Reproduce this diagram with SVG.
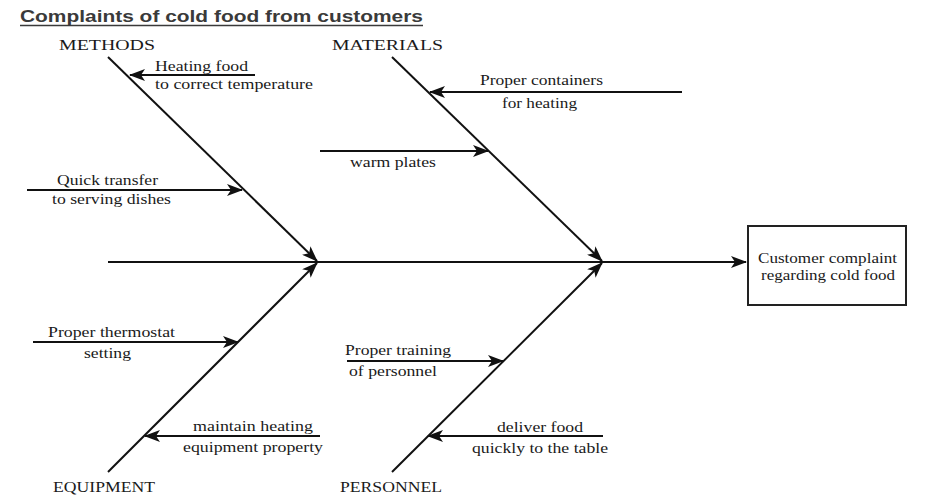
<svg xmlns="http://www.w3.org/2000/svg" width="937" height="502" viewBox="0 0 937 502">
<defs>
<style>
.title{font-family:"Liberation Sans",Arial,sans-serif;font-weight:bold;font-size:16.5px;fill:#3a3a3a}
.cat{font-family:"Liberation Serif","Times New Roman",serif;font-size:14.5px;fill:#1a1a1a}
.lbl{font-family:"Liberation Serif","Times New Roman",serif;font-size:15px;fill:#1a1a1a}
.ln{stroke:#111;stroke-width:2;fill:none}
.box{fill:#fff;stroke:#222;stroke-width:2}
</style>
<marker id="ah" viewBox="0 0 16 12" markerWidth="16" markerHeight="12" refX="15" refY="6" orient="auto" markerUnits="userSpaceOnUse">
<path d="M0,0 L16,6 L0,12 L4,6 z" fill="#111"/>
</marker>
</defs>
<rect width="937" height="502" fill="#fff"/>
<g id="title">
<text class="title" x="20" y="22" textLength="403" lengthAdjust="spacingAndGlyphs">Complaints of cold food from customers</text>
<line x1="20" y1="25.5" x2="423" y2="25.5" stroke="#3a3a3a" stroke-width="1.3"/>
</g>
<g id="connectors">
<line class="ln" x1="108" y1="262" x2="746" y2="262" marker-end="url(#ah)"/>
<line class="ln" x1="108" y1="57" x2="317" y2="261" marker-end="url(#ah)"/>
<line class="ln" x1="392" y1="57" x2="602" y2="261" marker-end="url(#ah)"/>
<line class="ln" x1="108" y1="472" x2="317" y2="263" marker-end="url(#ah)"/>
<line class="ln" x1="392" y1="472" x2="602" y2="263" marker-end="url(#ah)"/>
<line class="ln" x1="255" y1="75" x2="130" y2="75" marker-end="url(#ah)"/>
<line class="ln" x1="682" y1="92" x2="430" y2="92" marker-end="url(#ah)"/>
<line class="ln" x1="320" y1="151" x2="488" y2="151" marker-end="url(#ah)"/>
<line class="ln" x1="27" y1="190" x2="242" y2="190" marker-end="url(#ah)"/>
<line class="ln" x1="33" y1="342" x2="238" y2="342" marker-end="url(#ah)"/>
<line class="ln" x1="320" y1="436" x2="145" y2="436" marker-end="url(#ah)"/>
<line class="ln" x1="347" y1="361" x2="503" y2="361" marker-end="url(#ah)"/>
<line class="ln" x1="603" y1="436" x2="428" y2="436" marker-end="url(#ah)"/>
</g>
<g id="effect">
<rect class="box" x="748" y="226" width="158" height="79"/>
<text class="lbl" x="758" y="263" textLength="139" lengthAdjust="spacingAndGlyphs">Customer complaint</text>
<text class="lbl" x="761" y="280" textLength="134" lengthAdjust="spacingAndGlyphs">regarding cold food</text>
</g>
<g id="methods">
<text class="cat" x="59" y="50" textLength="96" lengthAdjust="spacingAndGlyphs">METHODS</text>
</g>
<g id="materials">
<text class="cat" x="332" y="50" textLength="111" lengthAdjust="spacingAndGlyphs">MATERIALS</text>
</g>
<g id="equipment">
<text class="cat" x="53" y="492" textLength="102" lengthAdjust="spacingAndGlyphs">EQUIPMENT</text>
</g>
<g id="personnel">
<text class="cat" x="340" y="492" textLength="102" lengthAdjust="spacingAndGlyphs">PERSONNEL</text>
</g>
<g id="cause-heating">
<text class="lbl" x="155" y="71" textLength="93" lengthAdjust="spacingAndGlyphs">Heating food</text>
<text class="lbl" x="155" y="89" textLength="158" lengthAdjust="spacingAndGlyphs">to correct temperature</text>
</g>
<g id="cause-quick">
<text class="lbl" x="57" y="185" textLength="101" lengthAdjust="spacingAndGlyphs">Quick transfer</text>
<text class="lbl" x="52" y="204" textLength="119" lengthAdjust="spacingAndGlyphs">to serving dishes</text>
</g>
<g id="cause-containers">
<text class="lbl" x="480" y="85" textLength="123" lengthAdjust="spacingAndGlyphs">Proper containers</text>
<text class="lbl" x="502" y="108" textLength="75" lengthAdjust="spacingAndGlyphs">for heating</text>
</g>
<g id="cause-plates">
<text class="lbl" x="350" y="167" textLength="86" lengthAdjust="spacingAndGlyphs">warm plates</text>
</g>
<g id="cause-thermostat">
<text class="lbl" x="48" y="337" textLength="127" lengthAdjust="spacingAndGlyphs">Proper thermostat</text>
<text class="lbl" x="84" y="358" textLength="47" lengthAdjust="spacingAndGlyphs">setting</text>
</g>
<g id="cause-maintain">
<text class="lbl" x="193" y="431" textLength="120" lengthAdjust="spacingAndGlyphs">maintain heating</text>
<text class="lbl" x="183" y="452" textLength="140" lengthAdjust="spacingAndGlyphs">equipment property</text>
</g>
<g id="cause-training">
<text class="lbl" x="345" y="355" textLength="106" lengthAdjust="spacingAndGlyphs">Proper training</text>
<text class="lbl" x="349" y="376" textLength="88" lengthAdjust="spacingAndGlyphs">of personnel</text>
</g>
<g id="cause-deliver">
<text class="lbl" x="497" y="432" textLength="86" lengthAdjust="spacingAndGlyphs">deliver food</text>
<text class="lbl" x="472" y="453" textLength="136" lengthAdjust="spacingAndGlyphs">quickly to the table</text>
</g>
</svg>
